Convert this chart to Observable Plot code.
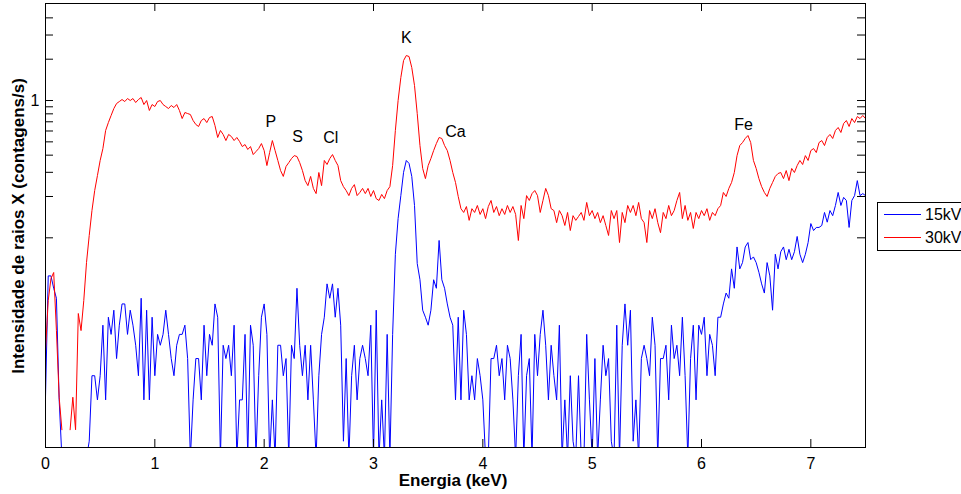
<!DOCTYPE html>
<html><head><meta charset="utf-8">
<script src="https://cdn.jsdelivr.net/npm/d3@7"></script>
<script src="https://cdn.jsdelivr.net/npm/@observablehq/plot@0.6"></script>
<style>body{margin:0;background:#fff;}</style>
</head><body><div id="chart"></div>
<script>
// energy step between samples (keV); sample i is at i * channelStep
const channelStep = 0.025;

// 15 kV spectrum (counts/s), 0 .. 7.5 keV (0.0025 = below the axis floor)
const series15kV = [
0.0069,0.0528,0.0528,0.0429,0.0363,0.0066,0.0025,0.0025,0.0025,0.0025,
0.0025,0.0025,0.0025,0.0025,0.0025,0.0025,0.0033,0.0099,0.0099,0.0066,
0.0099,0.0231,0.0066,0.0264,0.0198,0.0297,0.0132,0.0231,0.033,0.033,
0.0198,0.0297,0.0231,0.0165,0.0099,0.0363,0.0066,0.0297,0.0066,0.0264,
0.0099,0.0198,0.0165,0.0198,0.0297,0.0198,0.0132,0.0099,0.0165,0.0198,
0.0198,0.0231,0.0132,0.0025,0.0066,0.0132,0.0132,0.0066,0.0231,0.0099,
0.0198,0.0165,0.033,0.0264,0.0025,0.0165,0.0132,0.0165,0.0099,0.0231,
0.0025,0.0066,0.0066,0.0198,0.0025,0.0231,0.0165,0.0025,0.0099,0.0264,
0.033,0.0198,0.0025,0.0066,0.0025,0.0165,0.0165,0.0099,0.0132,0.0025,
0.0165,0.0132,0.0429,0.0165,0.0099,0.0165,0.0066,0.0165,0.0066,0.0025,
0.0099,0.0198,0.0264,0.0462,0.0363,0.0462,0.0264,0.0429,0.0231,0.0033,
0.0132,0.0025,0.0099,0.0165,0.0066,0.0132,0.0165,0.0132,0.0099,0.0231,
0.0025,0.0297,0.0025,0.0066,0.0025,0.0198,0.0025,0.0198,0.0759,0.138,
0.203,0.300,0.366,0.348,0.280,0.172,0.065,0.0495,0.0297,0.0264,
0.0231,0.0297,0.0495,0.0429,0.0957,0.0495,0.0429,0.033,0.0264,0.0231,
0.0066,0.0264,0.0066,0.0297,0.0198,0.0066,0.0099,0.0066,0.0132,0.0099,
0.0066,0.0025,0.0025,0.0132,0.0132,0.0165,0.0099,0.0132,0.0066,0.0165,
0.0132,0.0066,0.0025,0.0099,0.0198,0.0025,0.0099,0.0132,0.0025,0.0198,
0.0099,0.0198,0.0297,0.0165,0.0066,0.0165,0.0099,0.0066,0.0231,0.0025,
0.0066,0.0025,0.0099,0.0033,0.0025,0.0099,0.0025,0.0025,0.0198,0.0066,
0.0025,0.0132,0.0025,0.0066,0.0165,0.0099,0.0132,0.0033,0.0025,0.0231,
0.0025,0.0165,0.033,0.0165,0.0297,0.0033,0.0066,0.0025,0.0132,0.0165,
0.0132,0.0099,0.0264,0.0165,0.0025,0.0132,0.0132,0.0165,0.0066,0.0231,
0.0132,0.0165,0.0099,0.0264,0.0099,0.0025,0.0132,0.0231,0.0066,0.0231,
0.0198,0.0264,0.0099,0.0198,0.0165,0.0099,0.0264,0.0264,0.033,0.0396,
0.0363,0.0594,0.0429,0.0858,0.0594,0.066,0.0858,0.0924,0.0693,0.0726,
0.066,0.0561,0.0462,0.0396,0.066,0.0528,0.0297,0.0759,0.0594,0.0792,
0.0858,0.0693,0.0825,0.0693,0.0792,0.1023,0.0759,0.066,0.0759,0.0924,
0.127,0.113,0.119,0.119,0.123,0.153,0.130,0.158,0.145,0.172,
0.214,0.172,0.197,0.187,0.119,0.187,0.203,0.261,0.203,0.210,
0.203
];

// 30 kV spectrum (counts/s), 0 .. 7.5 keV (null = no counts)
const series30kV = [
0.0151,0.0349,0.0505,0.0559,0.0211,0.0069,0.0040,null,null,0.0040,
0.0069,0.0040,0.0281,0.0211,0.0349,0.066,0.104,0.158,0.221,0.284,
0.366,0.447,0.605,0.691,0.778,0.874,0.951,0.983,1.017,0.983,
1.034,1.000,1.034,0.967,1.017,1.052,0.935,1.000,0.846,0.935,
0.904,0.983,1.000,0.935,0.904,0.874,0.920,0.889,0.935,0.846,
0.739,0.818,0.804,0.791,0.715,0.669,0.647,0.715,0.739,0.691,
0.752,0.765,0.658,0.538,0.605,0.566,0.511,0.566,0.547,0.511,
0.538,0.503,0.462,0.478,0.440,0.462,0.404,0.425,0.447,0.486,
0.432,0.336,0.418,0.511,0.432,0.366,0.309,0.280,0.331,0.353,
0.378,0.397,0.391,0.353,0.309,0.261,0.240,0.280,0.229,0.210,
0.299,0.240,0.366,0.342,0.378,0.404,0.366,0.336,0.261,0.236,
0.221,0.203,0.229,0.244,0.203,0.214,0.229,0.210,0.229,0.200,
0.221,0.193,0.187,0.207,0.193,0.221,0.236,0.336,0.605,1.000,
1.47,1.956,2.127,2.092,1.739,1.286,0.804,0.470,0.320,0.270,
0.336,0.378,0.432,0.486,0.538,0.529,0.470,0.432,0.366,0.299,
0.253,0.200,0.163,0.153,0.169,0.134,0.163,0.153,0.172,0.148,
0.163,0.138,0.169,0.187,0.153,0.169,0.145,0.163,0.148,0.172,
0.153,0.169,0.148,0.0956,0.172,0.138,0.203,0.187,0.210,0.221,
0.203,0.153,0.187,0.229,0.203,0.163,0.158,0.129,0.158,0.145,
0.123,0.153,0.113,0.145,0.134,0.143,0.153,0.134,0.181,0.145,
0.158,0.138,0.153,0.129,0.145,0.123,0.104,0.158,0.138,0.158,
0.0924,0.153,0.129,0.172,0.153,0.172,0.145,0.181,0.138,0.129,
0.0924,0.158,0.138,0.163,0.129,0.109,0.153,0.138,0.172,0.145,
0.158,0.187,0.214,0.138,0.172,0.134,0.153,0.117,0.153,0.138,
0.158,0.145,0.163,0.134,0.153,0.145,0.163,0.172,0.214,0.200,
0.229,0.253,0.299,0.397,0.470,0.494,0.529,0.556,0.494,0.366,
0.320,0.270,0.236,0.214,0.200,0.229,0.253,0.280,0.294,0.299,
0.270,0.309,0.261,0.320,0.299,0.336,0.366,0.342,0.397,0.366,
0.432,0.447,0.418,0.494,0.511,0.470,0.538,0.566,0.529,0.605,
0.636,0.585,0.680,0.715,0.647,0.739,0.691,0.765,0.739,0.778,
0.739
];

const seriesNames = ["15kV", "30kV"];
const xTickValues = [0, 1, 2, 3, 4, 5, 6, 7];
const yTickValues = [0.1, 0.2, 0.3, 0.4, 0.5, 0.6, 0.7, 0.8, 0.9, 1, 2, 3, 4];
const yLabelValues = [1];

const peakLabels = ["P", "S", "Cl", "K", "Ca", "Fe"];
const peakEnergy = [2.06, 2.305, 2.61, 3.30, 3.75, 6.385];
const peakIntensity = [0.703, 0.547, 0.538, 2.875, 0.595, 0.665];

const xTitle = "Energia (keV)";
const yTitle = "Intensidade de raios X (contagens/s)";

// ---- layout ----
const W = 961, H = 494;
const mL = 45, mR = 96, mT = 3, mB = 47;
const innerW = W - mL - mR, innerH = H - mT - mB;
const tickLen = 8;
const font = "'Liberation Sans', Arial, Helvetica, sans-serif";

const rows15 = series15kV.map((v, i) => ({e: i * channelStep, v}));
const rows30 = series30kV.map((v, i) => ({e: i * channelStep, v}));
const labels = peakLabels.map((t, i) => ({t, e: peakEnergy[i], v: peakIntensity[i]}));

const svg = Plot.plot({
  width: W, height: H,
  marginLeft: mL, marginRight: mR, marginTop: mT, marginBottom: mB,
  style: {fontFamily: font, fontSize: "16px", background: "white", color: "black"},
  x: {domain: [0, 7.5]},
  y: {type: "log", domain: [0.00297, 5.09]},
  marks: [
    Plot.line(rows15, {x: "e", y: "v", stroke: "#0000ff", strokeWidth: 1, clip: true}),
    Plot.line(rows30, {x: "e", y: "v", stroke: "#ff0000", strokeWidth: 1, clip: true}),
    Plot.text(labels, {x: "e", y: "v", text: "t", fontSize: 16, fill: "black"}),
    Plot.tickX(xTickValues, {x: d => d, insetTop: innerH - tickLen, stroke: "black"}),
    Plot.tickX(xTickValues, {x: d => d, insetBottom: innerH - tickLen, stroke: "black"}),
    Plot.tickY(yTickValues, {y: d => d, insetRight: innerW - tickLen, stroke: "black"}),
    Plot.tickY(yTickValues, {y: d => d, insetLeft: innerW - tickLen, stroke: "black"}),
    Plot.axisX({ticks: xTickValues, tickSize: 0, tickPadding: 10, label: null, tickFormat: d => String(d), fontSize: 16}),
    Plot.axisY({ticks: yLabelValues, tickSize: 0, tickPadding: 6, label: null, tickFormat: d => String(d), fontSize: 16}),
    Plot.frame({stroke: "black"})
  ]
});

const s = d3.select(svg);
// axis titles
s.append("text").attr("x", mL + innerW / 2 - 2).attr("y", 480)
  .attr("text-anchor", "middle").attr("dominant-baseline", "central")
  .attr("font-weight", "bold").attr("font-size", 17).attr("fill", "black").text(xTitle);
s.append("text").attr("transform", "translate(18,226) rotate(-90)")
  .attr("text-anchor", "middle").attr("dominant-baseline", "central")
  .attr("font-weight", "bold").attr("font-size", 17).attr("fill", "black").text(yTitle);

// legend (outside the axes, right side)
const lg = s.append("g");
lg.append("rect").attr("x", 877.5).attr("y", 202.5).attr("width", 110).attr("height", 48)
  .attr("fill", "white").attr("stroke", "black");
const legColors = ["#0000ff", "#ff0000"];
seriesNames.forEach((name, i) => {
  const y = 214.5 + i * 23;
  lg.append("line").attr("x1", 884).attr("x2", 921).attr("y1", y).attr("y2", y)
    .attr("stroke", legColors[i]).attr("stroke-width", 1);
  lg.append("text").attr("x", 925).attr("y", y).attr("dominant-baseline", "central")
    .attr("text-anchor", "start").attr("font-size", 16).attr("fill", "black").text(name);
});

document.getElementById("chart").appendChild(svg);
</script>
</body></html>
